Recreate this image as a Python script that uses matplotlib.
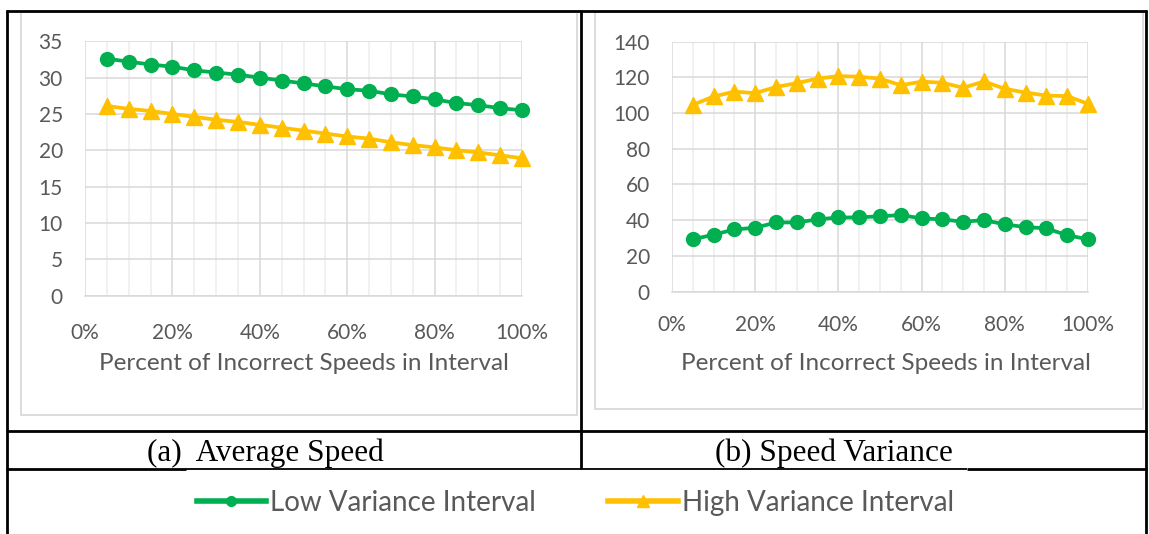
import matplotlib
matplotlib.use("Agg")
import matplotlib.pyplot as plt
import numpy as np
from matplotlib.lines import Line2D
from matplotlib.patches import Rectangle
from matplotlib.ticker import MultipleLocator, PercentFormatter

# percent of incorrect speeds in the interval
pct = [0.05, 0.10, 0.15, 0.20, 0.25, 0.30, 0.35, 0.40, 0.45, 0.50,
       0.55, 0.60, 0.65, 0.70, 0.75, 0.80, 0.85, 0.90, 0.95, 1.00]

# (a) average speed
avg_low = [32.6, 32.2, 31.8, 31.5, 31.0, 30.7, 30.4, 30.0, 29.6, 29.2,
           28.8, 28.4, 28.2, 27.7, 27.4, 27.0, 26.5, 26.2, 25.8, 25.5]
avg_high = [26.1, 25.7, 25.4, 25.0, 24.6, 24.2, 23.9, 23.5, 23.1, 22.7,
            22.3, 21.9, 21.6, 21.1, 20.7, 20.4, 20.0, 19.7, 19.3, 18.9]

# (b) speed variance
var_low = [29.3, 31.8, 34.8, 35.7, 38.7, 38.7, 40.4, 41.5, 41.5, 42.2,
           42.8, 41.0, 40.4, 39.1, 40.0, 37.6, 36.1, 35.4, 31.5, 29.3]
var_high = [104.6, 109.3, 112.0, 111.2, 114.6, 116.8, 119.3, 120.7, 120.4, 119.3,
            115.6, 117.6, 117.0, 114.2, 117.7, 113.6, 111.5, 109.8, 109.5, 105.2]

series_names = ["Low Variance Interval", "High Variance Interval"]
x_title = "Percent of Incorrect Speeds in Interval"
captions = ["(a)  Average Speed", "(b) Speed Variance"]

GREEN = "#00B050"
GOLD = "#FFC000"
TXT = "#595959"
GRID = "#D9D9D9"
MINOR = "#EDEDED"

W, H = 1149, 534
fig = plt.figure(figsize=(W / 100, H / 100), dpi=100)
plt.rcParams["font.family"] = ["Lato", "DejaVu Sans"]


def box(x0, y0, x1, y1):
    # pixel box (top-left origin) -> figure fraction rect
    return [x0 / W, 1 - y1 / H, (x1 - x0) / W, (y1 - y0) / H]


def hline(x0, x1, y, lw):
    fig.add_artist(Line2D([x0 / W, x1 / W], [1 - y / H, 1 - y / H],
                          color="black", lw=lw, solid_capstyle="butt"))


def vline(x, y0, y1, lw):
    fig.add_artist(Line2D([x / W, x / W], [1 - y0 / H, 1 - y1 / H],
                          color="black", lw=lw, solid_capstyle="butt"))


# light chart-area frames
for x0, y0, x1, y1 in [(21, 12, 577, 415), (595, 12, 1143, 409)]:
    fig.add_artist(Rectangle((x0 / W, 1 - y1 / H), (x1 - x0) / W, (y1 - y0) / H,
                             transform=fig.transFigure, fill=False,
                             edgecolor=GRID, lw=1.3))


def make_panel(rect, low, high, ymax, ystep, ypad, xpad):
    ax = fig.add_axes(rect)
    ax.set_xlim(0, 1)
    ax.set_ylim(0, ymax)
    ax.xaxis.set_major_locator(MultipleLocator(0.2))
    ax.xaxis.set_minor_locator(MultipleLocator(0.05))
    ax.yaxis.set_major_locator(MultipleLocator(ystep))
    ax.xaxis.set_major_formatter(PercentFormatter(1.0, decimals=0))
    ax.grid(which="minor", axis="x", color=MINOR, lw=1.1)
    ax.grid(which="major", axis="both", color=GRID, lw=1.1)
    ax.set_axisbelow(True)
    for s in ax.spines.values():
        s.set_visible(False)
    ax.spines["bottom"].set_visible(True)
    ax.spines["bottom"].set_color(GRID)
    ax.spines["bottom"].set_linewidth(1.1)
    ax.tick_params(which="both", length=0, labelcolor=TXT, labelsize=15)
    ax.tick_params(axis="y", pad=ypad)
    ax.tick_params(axis="x", pad=xpad)
    ax.plot(pct, low, color=GREEN, lw=2.7, marker="o", markersize=10,
            clip_on=False, zorder=3)
    ax.plot(pct, high, color=GOLD, lw=2.7, marker="^", markersize=11,
            clip_on=False, zorder=3)
    return ax


make_panel(box(85, 41.3, 522, 295.5), avg_low, avg_high, 35, 5, 16, 20)
make_panel(box(672, 41.7, 1088, 291.5), var_low, var_high, 140, 20, 16, 17)

# x axis titles
fig.text(303.5 / W, 1 - 363 / H, x_title, ha="center", va="center",
         color=TXT, fontsize=17.5)
fig.text(886 / W, 1 - 363 / H, x_title, ha="center", va="center",
         color=TXT, fontsize=17.5)

# table rules
hline(6, 1147, 11, 2)
hline(6, 1147, 431, 2)
hline(6, 186, 469, 2)
hline(186, 967, 469, 1.3)
hline(967, 1147, 469, 2)
vline(7, 10, 534, 2)
vline(1146, 10, 534, 2)
vline(581, 10, 469, 2)

# sub-figure captions
fig.text(147 / W, 1 - 461 / H, captions[0], ha="left", va="baseline",
         family="Liberation Serif", fontsize=22.5, color="black")
fig.text(715 / W, 1 - 461 / H, captions[1], ha="left", va="baseline",
         family="Liberation Serif", fontsize=22.5, color="black")

# shared legend
handles = [Line2D([], [], color=GREEN, lw=4, marker="o", markersize=7),
           Line2D([], [], color=GOLD, lw=4, marker="^", markersize=8)]
fig.legend(handles, series_names, loc="center", ncol=2,
           bbox_to_anchor=(575.5 / W, 1 - 503 / H), frameon=False,
           fontsize=20, labelcolor=TXT, handlelength=2.5, handletextpad=0.15,
           columnspacing=2.6, borderpad=0, borderaxespad=0)

fig.savefig("out.png", dpi=100)
